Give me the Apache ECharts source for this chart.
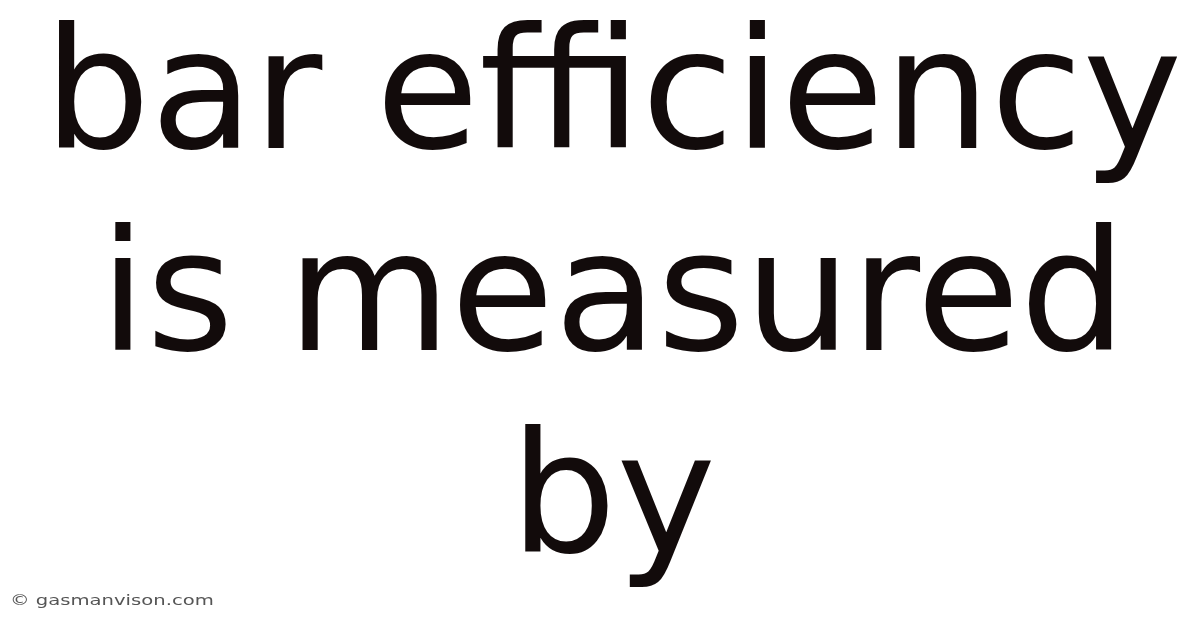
<!DOCTYPE html>
<html>
<head>
<meta charset="utf-8">
<script src="https://cdn.jsdelivr.net/npm/echarts@6/dist/echarts.min.js"></script>
<style>
  html, body { margin: 0; padding: 0; background: #ffffff; }
  #main { width: 1200px; height: 628px; }
</style>
</head>
<body>
<div id="main"></div>
<script>
// text lines of the heading, top to bottom
var headingLines = ['bar efficiency', 'is measured', 'by'];
var footerText = ['© gasmanvison.com'];

var chartObj = echarts.init(document.getElementById('main'), null, { renderer: 'canvas' });

var lineTop = 104;
var lineStep = 202;
var elements = [];
for (var i = 0; i < headingLines.length; i++) {
    elements.push({
        type: 'text',
        x: 613,
        y: lineTop + i * lineStep,
        style: {
            text: headingLines[i],
            font: '168px "DejaVu Sans"',
            fill: '#120b0b',
            textAlign: 'center',
            textVerticalAlign: 'middle'
        }
    });
}
// footer looks horizontally stretched in the reference
elements.push({
    type: 'text',
    x: 10,
    y: 601,
    scaleX: 1.4,
    style: {
        text: footerText[0],
        font: '14px "DejaVu Sans"',
        fill: '#555555',
        textAlign: 'left',
        textVerticalAlign: 'middle'
    }
});

var chartOpt = {
    backgroundColor: '#ffffff',
    animation: false,
    graphic: { elements: elements }
};
chartObj.setOption(chartOpt);
</script>
</body>
</html>
